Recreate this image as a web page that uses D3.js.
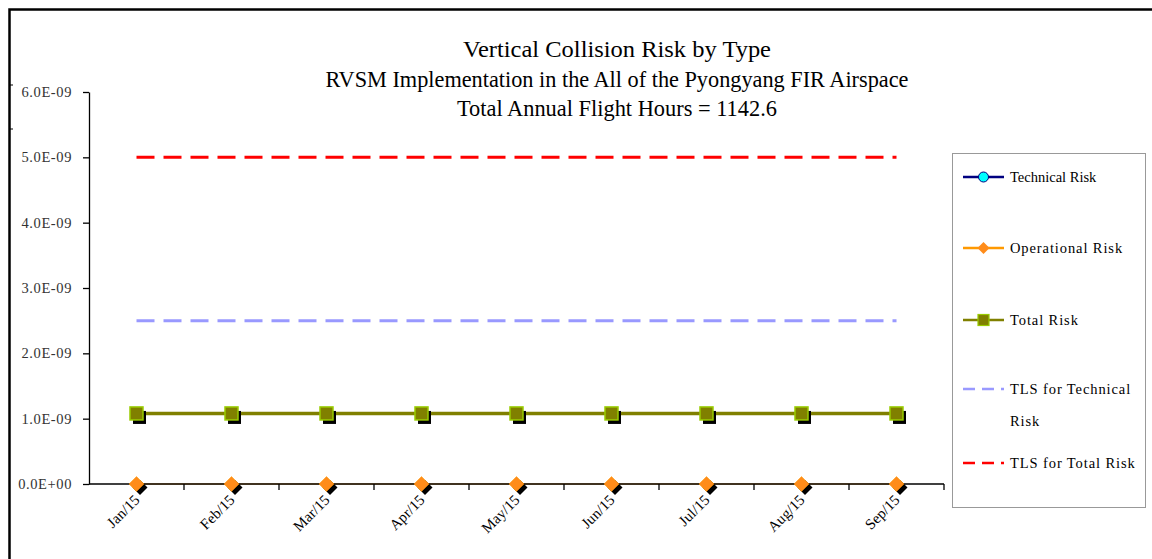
<!DOCTYPE html>
<html>
<head>
<meta charset="utf-8">
<script src="https://cdn.jsdelivr.net/npm/d3@7"></script>
<style>
  body { margin: 0; background: #fff; }
  svg text { font-family: "Liberation Serif", "DejaVu Serif", serif; }
</style>
</head>
<body>
<script>
// data
var months = ["Jan/15", "Feb/15", "Mar/15", "Apr/15", "May/15", "Jun/15", "Jul/15", "Aug/15", "Sep/15"];
var technicalRisk = [1.08e-9, 1.08e-9, 1.08e-9, 1.08e-9, 1.08e-9, 1.08e-9, 1.08e-9, 1.08e-9, 1.08e-9];
var operationalRisk = [0, 0, 0, 0, 0, 0, 0, 0, 0];
var totalRisk = [1.08e-9, 1.08e-9, 1.08e-9, 1.08e-9, 1.08e-9, 1.08e-9, 1.08e-9, 1.08e-9, 1.08e-9];
var tlsTechnical = [2.5e-9, 2.5e-9, 2.5e-9, 2.5e-9, 2.5e-9, 2.5e-9, 2.5e-9, 2.5e-9, 2.5e-9];
var tlsTotal = [5e-9, 5e-9, 5e-9, 5e-9, 5e-9, 5e-9, 5e-9, 5e-9, 5e-9];
var yTicks = [0, 1e-9, 2e-9, 3e-9, 4e-9, 5e-9, 6e-9];
var titleLines = ["Vertical Collision Risk by Type",
  "RVSM Implementation  in the All of the Pyongyang FIR Airspace",
  "Total Annual Flight Hours = 1142.6"];

var w = 1152, h = 559;

var svg = d3.select("body").append("svg")
  .attr("width", w)
  .attr("height", h);

// outer frame (only top and left edges show)
svg.append("path")
  .attr("d", "M9.5,559 V9.5 H1152")
  .attr("fill", "none")
  .attr("stroke", "#000")
  .attr("stroke-width", 2.5);
[85, 129].forEach(function(y) {
  svg.append("line").attr("x1", 9).attr("x2", 13).attr("y1", y).attr("y2", y)
    .attr("stroke", "#000").attr("stroke-width", 1);
});

// title
var titleX = 617;
var titleWidths = [308, 583, 320];
titleLines.forEach(function(t, i) {
  svg.append("text")
    .attr("x", titleX)
    .attr("y", 57 + i * 29.5)
    .attr("text-anchor", "middle")
    .style("font-family", "'Liberation Serif', serif")
    .attr("font-size", 23)
    .attr("textLength", titleWidths[i])
    .attr("lengthAdjust", "spacingAndGlyphs")
    .attr("fill", "#000")
    .text(t);
});

// scales
var xScale = d3.scaleBand()
  .domain(months)
  .range([89, 944]);

var yScale = d3.scaleLinear()
  .domain([0, 6e-9])
  .range([484, 92]);

var cx = function(i) { return xScale(months[i]) + xScale.bandwidth() / 2; };

function fmtE(d) {
  if (d === 0) return "0.0E+00";
  var s = d.toExponential(1).toUpperCase();
  var parts = s.split("E");
  var sign = parts[1][0];
  var ex = parts[1].slice(1);
  if (ex.length < 2) ex = "0" + ex;
  return parts[0] + "E" + sign + ex;
}

// lines
var lineGen = function(vals) {
  return d3.line()
    .x(function(d, i) { return cx(i); })
    .y(function(d) { return yScale(d); })(vals);
};

svg.append("path").attr("d", lineGen(tlsTotal))
  .attr("fill", "none").attr("stroke", "#FF0000")
  .attr("stroke-width", 3).attr("stroke-dasharray", "18,9");

svg.append("path").attr("d", lineGen(tlsTechnical))
  .attr("fill", "none").attr("stroke", "#9999FF")
  .attr("stroke-width", 3).attr("stroke-dasharray", "18,9");

// technical risk (hidden behind total)
svg.append("path").attr("d", lineGen(technicalRisk))
  .attr("fill", "none").attr("stroke", "#000080").attr("stroke-width", 3);
svg.selectAll(".tech").data(technicalRisk).enter().append("circle")
  .attr("cx", function(d, i) { return cx(i); })
  .attr("cy", function(d) { return yScale(d); })
  .attr("r", 5).attr("fill", "#00FFFF").attr("stroke", "#000080");

// operational risk (sits under the x axis)
svg.append("path").attr("d", lineGen(operationalRisk))
  .attr("fill", "none").attr("stroke", "#FF9900").attr("stroke-width", 1.2);

// total risk
svg.append("path").attr("d", lineGen(totalRisk))
  .attr("fill", "none").attr("stroke", "#808000").attr("stroke-width", 3.5);

// axes
var yAxis = d3.axisLeft(yScale)
  .tickValues(yTicks)
  .tickFormat(fmtE)
  .tickSize(6)
  .tickSizeOuter(0);

var gy = svg.append("g")
  .attr("transform", "translate(89,0)")
  .call(yAxis);
gy.select(".domain").attr("stroke", "#000").attr("stroke-width", 1.3);
gy.selectAll(".tick line").attr("stroke", "#000").attr("stroke-width", 1.3);
gy.selectAll(".tick text")
  .attr("x", -17)
  .attr("font-size", 14.5)
  .attr("fill", "#333")
  .attr("letter-spacing", 0.6)
  .attr("font-family", "Liberation Serif");

var gx = svg.append("g")
  .attr("transform", "translate(0,484)");
gx.append("line").attr("x1", 89).attr("x2", 944).attr("y1", 0).attr("y2", 0)
  .attr("stroke", "#000").attr("stroke-width", 1.6);
gx.selectAll(".xt").data(months.slice(1).concat(["end"])).enter().append("line")
  .attr("x1", function(d, i) { return 89 + xScale.step() * (i + 1); })
  .attr("x2", function(d, i) { return 89 + xScale.step() * (i + 1); })
  .attr("y1", 0).attr("y2", 6)
  .attr("stroke", "#000").attr("stroke-width", 1.3);
gx.selectAll(".xl").data(months).enter().append("text")
  .attr("transform", function(d) { return "translate(" + (xScale(d) + xScale.bandwidth() / 2 + 4) + ",17) rotate(-45)"; })
  .attr("text-anchor", "end")
  .attr("font-size", 15)
  .attr("fill", "#000")
  .text(function(d) { return d; });

// markers with shadow: operational diamonds
var diamond = "M0,-7.5 L7.5,0 L0,7.5 L-7.5,0 Z";
var gOp = svg.append("g");
operationalRisk.forEach(function(v, i) {
  var x = cx(i), y = yScale(v);
  gOp.append("path").attr("d", diamond)
    .attr("transform", "translate(" + (x + 3.5) + "," + (y + 3.5) + ")")
    .attr("fill", "#000");
  gOp.append("path").attr("d", diamond)
    .attr("transform", "translate(" + x + "," + y + ")")
    .attr("fill", "#FF8C1A").attr("stroke", "#FF9900").attr("stroke-width", 0.5);
});

// total risk squares
var gTot = svg.append("g");
totalRisk.forEach(function(v, i) {
  var x = cx(i), y = yScale(v);
  gTot.append("rect")
    .attr("x", x - 6.5 + 3).attr("y", y - 6.5 + 4)
    .attr("width", 13).attr("height", 13).attr("fill", "#000");
  gTot.append("rect")
    .attr("x", x - 6.5).attr("y", y - 6.5)
    .attr("width", 13).attr("height", 13)
    .attr("fill", "#808000").attr("stroke", "#99CC00").attr("stroke-width", 1.5);
});

// legend
var legend = svg.append("g");
legend.append("rect")
  .attr("x", 952.5).attr("y", 153.5)
  .attr("width", 193).attr("height", 354)
  .attr("fill", "#fff").attr("stroke", "#999").attr("stroke-width", 1);

var legendItems = [
  { name: ["Technical Risk"], color: "#000080", dash: null, marker: "circle", y: 177 },
  { name: ["Operational Risk"], color: "#FF9900", dash: null, marker: "diamond", y: 248 },
  { name: ["Total Risk"], color: "#808000", dash: null, marker: "square", y: 320 },
  { name: ["TLS for Technical", "Risk"], color: "#9999FF", dash: "12,7", marker: null, y: 389 },
  { name: ["TLS for Total Risk"], color: "#FF0000", dash: "12,7", marker: null, y: 463 }
];

legendItems.forEach(function(it) {
  var g = legend.append("g");
  g.append("line")
    .attr("x1", 963).attr("x2", 1004)
    .attr("y1", it.y).attr("y2", it.y)
    .attr("stroke", it.color).attr("stroke-width", 2.5)
    .attr("stroke-dasharray", it.dash);
  if (it.marker === "circle") {
    g.append("circle").attr("cx", 983.5).attr("cy", it.y).attr("r", 5)
      .attr("fill", "#00FFFF").attr("stroke", "#000080").attr("stroke-width", 1);
  } else if (it.marker === "diamond") {
    g.append("path").attr("d", "M0,-6 L6,0 L0,6 L-6,0 Z")
      .attr("transform", "translate(983.5," + it.y + ")")
      .attr("fill", "#FF8C1A");
  } else if (it.marker === "square") {
    g.append("rect").attr("x", 978).attr("y", it.y - 5.5)
      .attr("width", 11).attr("height", 11)
      .attr("fill", "#808000").attr("stroke", "#99CC00").attr("stroke-width", 1.2);
  }
  it.name.forEach(function(t, j) {
    g.append("text")
      .attr("x", 1010)
      .attr("y", it.y + 5 + j * 32)
      .attr("font-size", 14.5)
      .attr("letter-spacing", it.name[0] === "Technical Risk" ? 0 : 0.9)
      .attr("fill", "#000")
      .text(t);
  });
});
</script>
</body>
</html>
